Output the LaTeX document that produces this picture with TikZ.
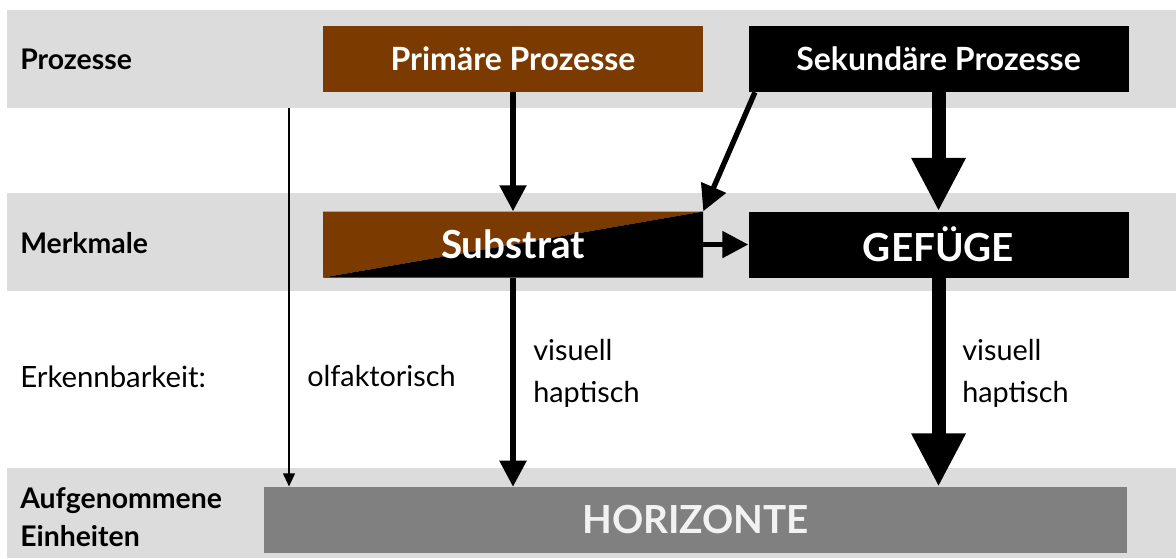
\documentclass[tikz,border=0pt]{standalone}
\usepackage{fontspec}
\setmainfont{Lato}
\usetikzlibrary{arrows.meta,positioning}

\definecolor{bandGray}{HTML}{DCDCDC}
\definecolor{soilBrown}{HTML}{7B3B00}
\definecolor{horGray}{HTML}{808080}

\tikzset{
    rowLabel/.style={anchor=west, inner sep=0pt, align=left,
        font=\bfseries\fontsize{21.3}{28.5}\selectfont},
    senseLabel/.style={anchor=west, inner sep=0pt, align=left,
        font=\fontsize{21.6}{31.5}\selectfont},
    procBox/.style={minimum width=285pt, minimum height=49.5pt, inner sep=0pt,
        text=white, font=\bfseries\fontsize{24}{26}\selectfont},
    featBox/.style={procBox, font=\bfseries\fontsize{29}{30}\selectfont},
    thinArrow/.style={line width=2.2pt, -{Triangle[length=10pt,width=8.5pt]}},
    midArrow/.style={line width=4pt, -{Triangle[length=19.5pt,width=19.5pt]}},
    bigArrow/.style={line width=10.5pt, -{Triangle[length=40pt,width=38pt]}}
}

\begin{document}
\begin{tikzpicture}[x=0.75pt, y=-0.75pt]
    \useasboundingbox (0,0) rectangle (1176,558);
%
    % grey bands
    \fill[bandGray] (7,10) rectangle (1176,108);
    \fill[bandGray] (7,193) rectangle (1176,291);
    \fill[bandGray] (7,468) rectangle (1176,558);
%
    % row labels
    \node[rowLabel] (lblProz) at (20,59) {Prozesse};
    \node[rowLabel] (lblMerk) at (20,243) {Merkmale};
    \node[rowLabel, font=\fontsize{22}{28.5}\selectfont] (lblErk) at (20,377) {Erkennbarkeit:};
    \node[rowLabel] (lblEinh) at (20,517) {Aufgenommene\\Einheiten};
%
    % boxes
    \node[procBox, fill=soilBrown] (prim) at (513,59) {Primäre Prozesse};
    \node[procBox, fill=black, right=33.75pt of prim] (sek) {Sekundäre Prozesse};
    \node[featBox, below=89.25pt of prim, path picture={
        \fill[soilBrown] (path picture bounding box.north west)
            -- (path picture bounding box.north east)
            -- (path picture bounding box.south west) -- cycle;
        \fill[black] (path picture bounding box.north east)
            -- (path picture bounding box.south east)
            -- (path picture bounding box.south west) -- cycle;
    }] (sub) {Substrat};
    \node[featBox, fill=black, right=33.75pt of sub] (gef) {GEFÜGE};
    \node[featBox, fill=horGray, text=white!95!black, minimum width=647.25pt] (hor) at (695.5,520) {HORIZONTE};
%
    % senses
    \node[senseLabel] (olf) at (307,376) {olfaktorisch};
    \node[senseLabel] (senseSub) at (533,373) {visuell\\haptisch};
    \node[senseLabel] (senseGef) at (962,373) {visuell\\haptisch};
%
    % arrows
    \coordinate (olfStart) at (289,108);
    \draw[thinArrow] (olfStart) -- (olfStart |- hor.north);
    \draw[midArrow] (prim.south) -- (sub.north);
    \draw[midArrow] ([xshift=5pt]sek.south west) -- (sub.north east);
    \draw[midArrow] (sub.east) -- (gef.west);
    \draw[midArrow] (sub.south) -- (sub.south |- hor.north);
    \draw[bigArrow] (sek.south) -- (gef.north);
    \draw[bigArrow] (gef.south) -- (gef.south |- hor.north);
\end{tikzpicture}
\end{document}
